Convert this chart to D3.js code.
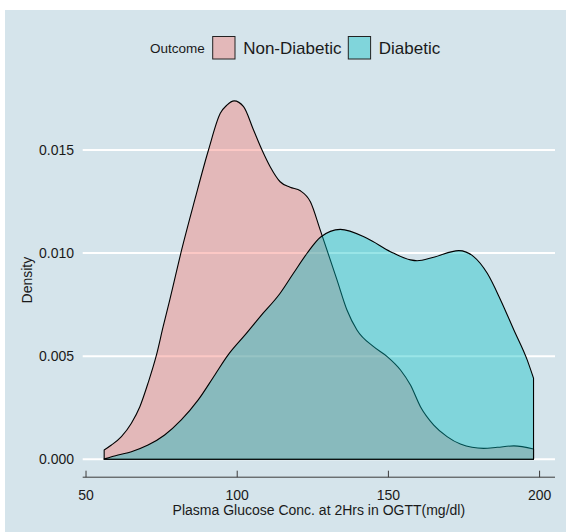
<!DOCTYPE html>
<html>
<head>
<meta charset="utf-8">
<script src="https://cdn.jsdelivr.net/npm/d3@7"></script>
<style>
  html, body { margin: 0; padding: 0; background: #ffffff; }
  svg { display: block; font-family: "Liberation Sans", Arial, sans-serif; }
</style>
</head>
<body>
<svg id="chart" width="566" height="532"></svg>
<script>
// Density estimates of 2-hour plasma glucose, by outcome group
const nonDiabeticGlucose = [56, 58.4, 61.7, 65, 67.8, 70.5, 73.3, 75.5, 77.7, 81.7, 86, 90.5, 94.4, 96.6, 99, 102.1, 105.4, 108.2, 110.9, 114.2, 117.5, 120.9, 124.2, 127.5, 133, 136.3, 139.6, 145.1, 149.6, 154, 157.3, 160.6, 165, 169.4, 173.8, 181.5, 186, 191.5, 198];
const nonDiabeticDensity = [0.00045, 0.00069, 0.0011, 0.00175, 0.00255, 0.00369, 0.00506, 0.00643, 0.00773, 0.0102, 0.0126, 0.0150, 0.01678, 0.01718, 0.01738, 0.0171, 0.01597, 0.0150, 0.01419, 0.01346, 0.01319, 0.01302, 0.01249, 0.0111, 0.0087, 0.00724, 0.00627, 0.00546, 0.00498, 0.00433, 0.0036, 0.00255, 0.00166, 0.0011, 0.00074, 0.00053, 0.00058, 0.00065, 0.0005];

const diabeticGlucose = [56, 60.6, 65, 70.5, 76, 81.5, 87.1, 92.6, 97, 102.6, 107.6, 114.2, 118.6, 123.1, 127.5, 134.1, 142.9, 150.7, 157.3, 159.5, 165, 173.3, 178.2, 182.7, 187.1, 191.5, 195.9, 198];
const diabeticDensity = [0.00002, 0.00021, 0.00037, 0.00069, 0.00118, 0.00191, 0.00288, 0.00409, 0.00506, 0.00603, 0.00692, 0.00805, 0.00902, 0.00999, 0.01077, 0.01115, 0.01072, 0.01007, 0.00967, 0.00963, 0.0098, 0.01012, 0.00983, 0.00902, 0.00773, 0.00627, 0.00482, 0.00393];

const outcomeLabels = ["Non-Diabetic", "Diabetic"];
const outcomeColors = ["#F8766D", "#00BFC4"];
const xTicks = [50, 100, 150, 200];
const yTicks = [0, 0.005, 0.010, 0.015];

const series = [
  { name: outcomeLabels[0], color: outcomeColors[0],
    points: nonDiabeticGlucose.map((g, i) => [g, nonDiabeticDensity[i]]) },
  { name: outcomeLabels[1], color: outcomeColors[1],
    points: diabeticGlucose.map((g, i) => [g, diabeticDensity[i]]) }
];

const svg = d3.select("#chart");
const W = 566, H = 532;

// page background panel
svg.append("rect").attr("x", 5).attr("y", 10).attr("width", W - 5).attr("height", H - 10)
  .attr("fill", "#d5e4eb");

const panel = { left: 82.7, right: 555, top: 83, bottom: 477.2 };

// continuous scales with 5% expansion on both ends
const allX = nonDiabeticGlucose.concat(diabeticGlucose);
const allY = [0].concat(nonDiabeticDensity, diabeticDensity);
const [x0, x1] = d3.extent(allX);
const [y0, y1] = d3.extent(allY);
const xPad = (x1 - x0) * 0.05, yPad = (y1 - y0) * 0.05;

const x = d3.scaleLinear().domain([x0 - xPad, x1 + xPad]).range([panel.left, panel.right]);
const y = d3.scaleLinear().domain([y0 - yPad, y1 + yPad]).range([panel.bottom, panel.top]);

// horizontal grid lines
svg.append("g").selectAll("line").data(yTicks).join("line")
  .attr("x1", panel.left).attr("x2", panel.right)
  .attr("y1", d => y(d)).attr("y2", d => y(d))
  .attr("stroke", "#ffffff").attr("stroke-width", 2);

// y tick labels
svg.append("g").selectAll("text").data(yTicks).join("text")
  .attr("x", 74).attr("y", d => y(d))
  .attr("text-anchor", "end").attr("dominant-baseline", "central")
  .attr("font-size", 14).attr("fill", "#1a1a1a")
  .text(d => d3.format(".3f")(d));

// density areas drawn as closed outlines
const area = d3.area()
  .x(d => x(d[0]))
  .y0(y(0))
  .y1(d => y(d[1]))
  .curve(d3.curveMonotoneX);

series.forEach(s => {
  svg.append("path")
    .datum(s.points)
    .attr("d", area)
    .attr("fill", s.color).attr("fill-opacity", 0.4)
    .attr("stroke", "#000000").attr("stroke-width", 1.1)
    .attr("stroke-linejoin", "round");
});

// x axis: line with upward ticks
const xAxis = svg.append("g");
xAxis.append("line")
  .attr("x1", panel.left).attr("x2", panel.right)
  .attr("y1", panel.bottom).attr("y2", panel.bottom)
  .attr("stroke", "#3a3a3a").attr("stroke-width", 1);
xAxis.selectAll("line.tick").data(xTicks).join("line").attr("class", "tick")
  .attr("x1", d => x(d)).attr("x2", d => x(d))
  .attr("y1", panel.bottom).attr("y2", panel.bottom - 6.5)
  .attr("stroke", "#3a3a3a").attr("stroke-width", 1);
xAxis.selectAll("text").data(xTicks).join("text")
  .attr("x", d => x(d)).attr("y", 495)
  .attr("text-anchor", "middle").attr("dominant-baseline", "central")
  .attr("font-size", 14).attr("fill", "#1a1a1a")
  .text(d => d);

// axis titles
svg.append("text")
  .attr("x", (panel.left + panel.right) / 2).attr("y", 510)
  .attr("text-anchor", "middle").attr("dominant-baseline", "central")
  .attr("font-size", 14).attr("fill", "#1a1a1a")
  .text("Plasma Glucose Conc. at 2Hrs in OGTT(mg/dl)");

svg.append("text")
  .attr("transform", `translate(27,${(panel.top + panel.bottom) / 2}) rotate(-90)`)
  .attr("text-anchor", "middle").attr("dominant-baseline", "central")
  .attr("font-size", 14).attr("fill", "#1a1a1a")
  .text("Density");

// legend
const legend = svg.append("g");
const legendY = 48;
legend.append("text")
  .attr("x", 150).attr("y", legendY)
  .attr("dominant-baseline", "central")
  .attr("font-size", 13.5).attr("fill", "#1a1a1a")
  .text("Outcome");
const keyX = [212.7, 348.3];
series.forEach((s, i) => {
  legend.append("rect")
    .attr("x", keyX[i]).attr("y", 36.5).attr("width", 22.3).attr("height", 22.5)
    .attr("fill", s.color).attr("fill-opacity", 0.4)
    .attr("stroke", "#222222").attr("stroke-width", 1);
  legend.append("text")
    .attr("x", keyX[i] + 30.5).attr("y", legendY)
    .attr("dominant-baseline", "central")
    .attr("font-size", 17).attr("fill", "#1a1a1a")
    .text(s.name);
});
</script>
</body>
</html>
